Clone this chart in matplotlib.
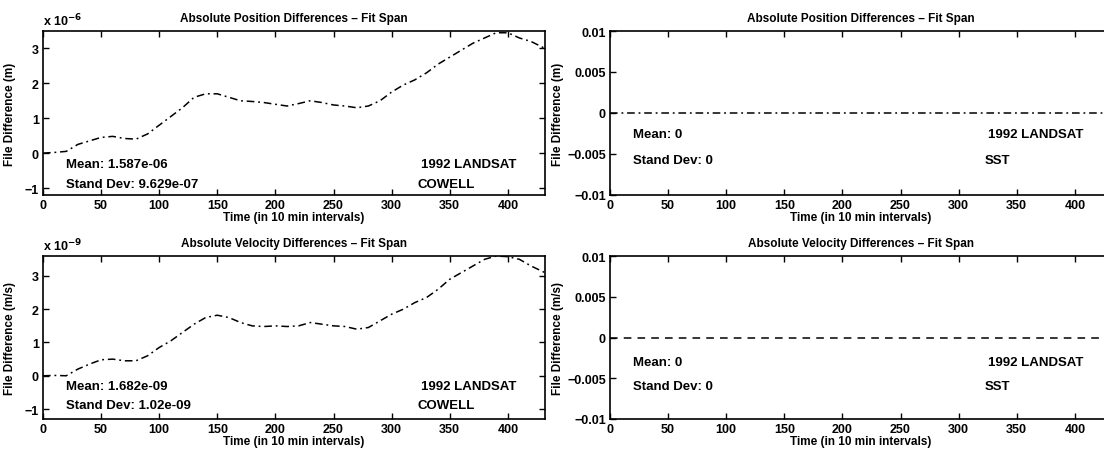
import matplotlib
matplotlib.use("Agg")
import matplotlib.pyplot as plt
import numpy as np

plt.rcParams['font.family'] = ['Liberation Sans', 'DejaVu Sans']
plt.rcParams['font.weight'] = 'bold'
plt.rcParams['axes.titleweight'] = 'bold'
plt.rcParams['axes.labelweight'] = 'bold'
plt.rcParams['font.size'] = 9

# time axis (10 min intervals)
t = [0, 10, 20, 30, 40, 50, 60, 70, 80, 90, 100, 110, 120, 130, 140, 150,
     160, 170, 180, 190, 200, 210, 220, 230, 240, 250, 260, 270, 280, 290,
     300, 310, 320, 330, 340, 350, 360, 370, 380, 390, 400, 410, 420, 432]

# position differences, x 1e-6 m
pos_diff = [0.0, 0.02, 0.05, 0.25, 0.35, 0.45, 0.48, 0.42, 0.40, 0.55,
            0.80, 1.05, 1.30, 1.60, 1.70, 1.70, 1.60, 1.50, 1.48, 1.45,
            1.40, 1.35, 1.42, 1.50, 1.45, 1.38, 1.35, 1.30, 1.35, 1.50,
            1.75, 1.95, 2.10, 2.30, 2.55, 2.75, 2.95, 3.15, 3.30, 3.45,
            3.45, 3.30, 3.20, 3.00]

# velocity differences, x 1e-9 m/s
vel_diff = [0.0, 0.01, 0.0, 0.20, 0.35, 0.48, 0.50, 0.45, 0.45, 0.60,
            0.85, 1.05, 1.30, 1.55, 1.75, 1.82, 1.75, 1.60, 1.50, 1.48,
            1.50, 1.48, 1.50, 1.60, 1.55, 1.50, 1.48, 1.40, 1.45, 1.65,
            1.85, 2.00, 2.20, 2.35, 2.60, 2.90, 3.10, 3.30, 3.50, 3.60,
            3.58, 3.50, 3.30, 3.10]

# SST vs SST: identical files
sst_t = [0, 432]
sst_diff = [0.0, 0.0]

titles = ["Absolute Position Differences \u2013 Fit Span",
          "Absolute Velocity Differences \u2013 Fit Span"]
ylabels = ["File Difference (m)", "File Difference (m/s)"]
xlabel = "Time (in 10 min intervals)"
cowell_stats = [("Mean: 1.587e-06", "Stand Dev: 9.629e-07"),
                ("Mean: 1.682e-09", "Stand Dev: 1.02e-09")]
sst_stats = [("Mean: 0", "Stand Dev: 0"), ("Mean: 0", "Stand Dev: 0")]
exponents = ["-6", "-9"]

fig = plt.figure(figsize=(11.04, 4.52), dpi=100)

W = 502 / 1104
rows = [(0.5664, 0.3628), (0.0708, 0.3606)]
dashdot = (0, (5, 2.5, 1.2, 2.5))


def style(ax):
    ax.set_xlim(0, 432)
    ax.set_xticks(np.arange(0, 401, 50))
    ax.tick_params(direction='in', top=True, right=True, length=4,
                   width=1, labelsize=9, pad=3)
    for s in ax.spines.values():
        s.set_linewidth(1.2)


for r in range(2):
    bottom, height = rows[r]

    # COWELL run
    ax = fig.add_axes([43 / 1104, bottom, W, height])
    data = pos_diff if r == 0 else vel_diff
    ax.plot(t, data, color='black', lw=1.1, linestyle=dashdot)
    style(ax)
    ax.set_ylim((-1.2, 3.5) if r == 0 else (-1.3, 3.6))
    ax.set_yticks([-1, 0, 1, 2, 3])
    ax.set_yticklabels(["\u22121", "0", "1", "2", "3"])
    ax.set_title(titles[r], fontsize=8.5, pad=7)
    ax.set_xlabel(xlabel, fontsize=8.5, labelpad=0)
    ax.set_ylabel(ylabels[r], fontsize=8.5, labelpad=6)
    ax.text(0.0, 1.015, "x 10$^{%s}$" % exponents[r], transform=ax.transAxes,
            fontsize=9, ha='left', va='bottom')
    ax.text(20, -0.3, cowell_stats[r][0], fontsize=9.5, va='center')
    ax.text(20, -0.88, cowell_stats[r][1], fontsize=9.5, va='center')
    ax.text(325, -0.3, "1992 LANDSAT", fontsize=9.5, va='center')
    ax.text(322, -0.88, "COWELL", fontsize=9.5, va='center')

    # SST run
    ax = fig.add_axes([610 / 1104, bottom, W, height])
    ax.plot(sst_t, sst_diff, color='black', lw=1.1,
            linestyle=dashdot if r == 0 else (0, (5, 4)))
    style(ax)
    ax.set_ylim(-0.01, 0.01)
    ax.set_yticks([-0.01, -0.005, 0, 0.005, 0.01])
    ax.set_yticklabels(["\u22120.01", "\u22120.005", "0", "0.005", "0.01"])
    ax.set_title(titles[r], fontsize=8.5, pad=7)
    ax.set_xlabel(xlabel, fontsize=8.5, labelpad=0)
    ax.set_ylabel(ylabels[r], fontsize=8.5, labelpad=2)
    ym, ys = (-0.0026, -0.0057) if r == 0 else (-0.003, -0.006)
    ax.text(20, ym, sst_stats[r][0], fontsize=9.5, va='center')
    ax.text(20, ys, sst_stats[r][1], fontsize=9.5, va='center')
    ax.text(325, ym, "1992 LANDSAT", fontsize=9.5, va='center')
    ax.text(322, ys, "SST", fontsize=9.5, va='center')

fig.savefig("out.png", dpi=100)
